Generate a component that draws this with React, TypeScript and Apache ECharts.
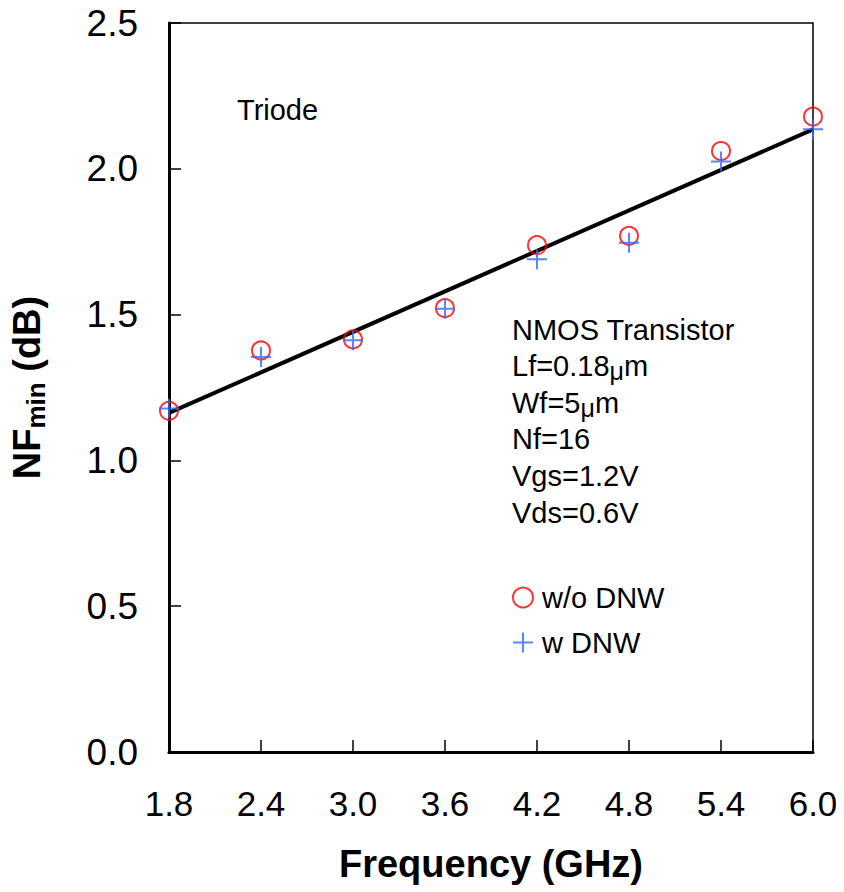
import React, { useEffect, useRef } from "react";
import * as echarts from "echarts";

const freqGHz = [1.8, 2.4, 3.0, 3.6, 4.2, 4.8, 5.4, 6.0];
const nfWithoutDnw = [1.17, 1.377, 1.415, 1.522, 1.738, 1.77, 2.061, 2.179];
const nfWithDnw = [1.178, 1.355, 1.412, 1.52, 1.69, 1.746, 2.025, 2.136];
const fitFreq = [1.8, 6.0];
const fitNf = [1.163, 2.135];
const xTicks = { min: 1.8, max: 6.0, interval: 0.6 };
const yTicks = { min: 0, max: 2.5, interval: 0.5 };
const annotationLines = [
  "NMOS Transistor",
  "Lf=0.18{mu|μ}m",
  "Wf=5{mu|μ}m",
  "Nf=16",
  "Vgs=1.2V",
  "Vds=0.6V",
];

const FONT = "'Liberation Sans', Arial, Helvetica, sans-serif";
const CROSS = "path://M0,10L20,10M10,0L10,20";

export default function App() {
  const ref = useRef<HTMLDivElement>(null);
  useEffect(() => {
    if (!ref.current) return;
    const chart = echarts.init(ref.current, undefined, { renderer: "svg" });
    const annotationGraphics = annotationLines.map((t, i) => ({
      type: "text",
      left: 512,
      top: 315 + i * 36.6,
      style: {
        text: t,
        fontFamily: FONT,
        fontSize: 29,
        fill: "#000",
        rich: {
          mu: {
            fontFamily: FONT,
            fontSize: 25,
            fill: "#000",
            padding: [10, 0, 0, 0],
          },
        },
      },
    }));
    chart.setOption({
      animation: false,
      backgroundColor: "#fff",
      textStyle: { fontFamily: FONT },
      grid: {
        left: 165,
        right: 31,
        top: 23,
        bottom: 140,
        show: true,
        borderColor: "#000",
        borderWidth: 1.5,
        containLabel: false,
      },
      xAxis: {
        type: "value",
        min: xTicks.min,
        max: xTicks.max,
        interval: xTicks.interval,
        name: "Frequency (GHz)",
        nameLocation: "middle",
        nameGap: 93,
        nameTextStyle: { fontFamily: FONT, fontSize: 38, fontWeight: "bold", color: "#000" },
        axisLine: { show: true, lineStyle: { color: "#000", width: 3 } },
        axisTick: { show: true, inside: true, length: 12, lineStyle: { color: "#000", width: 1.5 } },
        axisLabel: {
          fontFamily: FONT,
          fontSize: 35,
          color: "#000",
          margin: 34,
          formatter: (v: number) => v.toFixed(1),
        },
        splitLine: { show: false },
      },
      yAxis: {
        type: "value",
        min: yTicks.min,
        max: yTicks.max,
        interval: yTicks.interval,
        name: "{a|NF}{b|min}{a| (dB)}",
        nameLocation: "middle",
        nameGap: 120,
        nameRotate: 90,
        nameTextStyle: {
          rich: {
            a: { fontFamily: FONT, fontSize: 38, fontWeight: "bold", color: "#000", lineHeight: 44 },
            b: {
              fontFamily: FONT,
              fontSize: 26,
              fontWeight: "bold",
              color: "#000",
              lineHeight: 26,
              verticalAlign: "bottom",
            },
          },
        },
        axisLine: { show: true, lineStyle: { color: "#000", width: 3 } },
        axisTick: { show: true, inside: true, length: 12, lineStyle: { color: "#000", width: 1.5 } },
        axisLabel: {
          fontFamily: FONT,
          fontSize: 37,
          color: "#000",
          margin: 31,
          formatter: (v: number) => v.toFixed(1),
        },
        splitLine: { show: false },
      },
      legend: {
        data: ["w/o DNW", "w DNW"],
        orient: "vertical",
        left: 507,
        top: 578,
        itemWidth: 28,
        itemHeight: 20,
        itemGap: 16,
        textStyle: { fontFamily: FONT, fontSize: 29, color: "#000" },
      },
      graphic: [
        {
          type: "text",
          left: 237,
          top: 95,
          style: { text: "Triode", fontFamily: FONT, fontSize: 29, fill: "#000" },
        },
        ...annotationGraphics,
      ],
      series: [
        {
          name: "fit",
          type: "line",
          data: fitFreq.map((x, i) => [x, fitNf[i]]),
          showSymbol: false,
          symbol: "none",
          lineStyle: { color: "#000", width: 4 },
          silent: true,
          z: 1,
        },
        {
          name: "w/o DNW",
          type: "scatter",
          data: freqGHz.map((x, i) => [x, nfWithoutDnw[i]]),
          symbol: "circle",
          symbolSize: 18,
          clip: false,
          itemStyle: { color: "rgba(255,255,255,0)", borderColor: "#ff0000", borderWidth: 2 },
          z: 3,
        },
        {
          name: "w DNW",
          type: "scatter",
          data: freqGHz.map((x, i) => [x, nfWithDnw[i]]),
          symbol: CROSS,
          symbolSize: 20,
          clip: false,
          itemStyle: { color: "rgba(255,255,255,0)", borderColor: "#3366ff", borderWidth: 2 },
          z: 4,
        },
      ],
    });
    return () => chart.dispose();
  }, []);
  return <div ref={ref} style={{ width: 844, height: 892, margin: "-8px 0 0 -8px" }} />;
}
